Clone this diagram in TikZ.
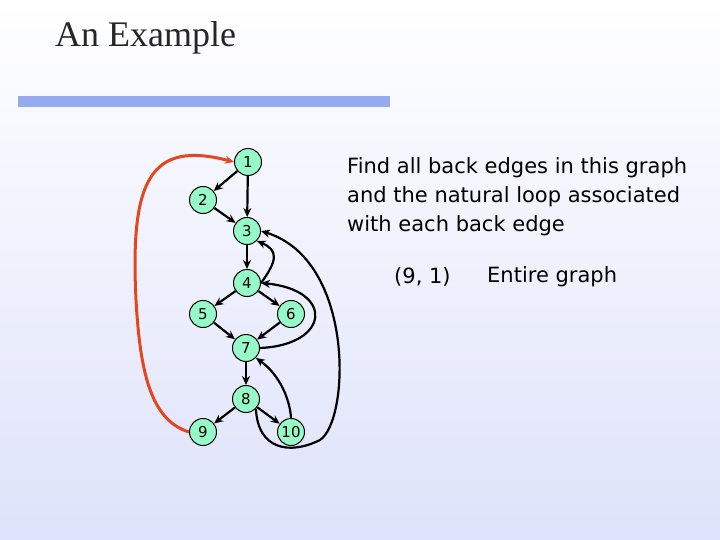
\documentclass[tikz,border=0pt]{standalone}
\usepackage{fontspec}
\setmainfont{Liberation Serif}
\newfontfamily\sansf{DejaVu Sans}
\usetikzlibrary{arrows.meta}
\definecolor{bgblue}{RGB}{222,226,250}
\definecolor{barblue}{RGB}{150,170,240}
\definecolor{nodegreen}{RGB}{150,250,200}
\definecolor{backred}{RGB}{230,70,30}
\begin{document}
\begin{tikzpicture}[x=1pt,y=-1pt,
  gn/.style={circle,draw=black,fill=nodegreen,line width=1pt,minimum size=27pt,inner sep=0pt,font=\sansf\fontsize{15}{15}\selectfont},
  ed/.style={line width=2.2pt,-{Stealth[length=9pt,width=8pt]}},
  txt/.style={font=\sansf\fontsize{21}{25}\selectfont,anchor=west,inner sep=0pt}]
\shade[top color=white,bottom color=bgblue] (0,0) rectangle (720,540);
\useasboundingbox (0,0) rectangle (720,540);
\node[anchor=west,inner sep=0pt,font=\fontsize{36}{36}\selectfont,text=black!85] (title) at (55,38) {An Example};
\fill[barblue] (18,96) rectangle (390,107);
\node[gn] (n1) at (248,162) {1};
\node[gn] (n2) at (203,200) {2};
\node[gn] (n3) at (247,231) {3};
\node[gn] (n4) at (247,283) {4};
\node[gn] (n5) at (203,314) {5};
\node[gn] (n6) at (291,314) {6};
\node[gn] (n7) at (246,348) {7};
\node[gn] (n8) at (246,399) {8};
\node[gn] (n9) at (203,432) {9};
\node[gn] (n10) at (291,432) {10};
\draw[ed] (n1)--(n2);
\draw[ed] (n1)--(n3);
\draw[ed] (n2)--(n3);
\draw[ed] (n3)--(n4);
\draw[ed] (n4)--(n5);
\draw[ed] (n4)--(n6);
\draw[ed] (n5)--(n7);
\draw[ed] (n6)--(n7);
\draw[ed] (n7)--(n8);
\draw[ed] (n8)--(n9);
\draw[ed] (n8)--(n10);
\draw[ed] (n4.east) .. controls (278,260) and (278,250) .. (n3.south east);
\draw[ed] (n10.north) .. controls (290,400) and (280,375) .. (n7.south east);
\draw[ed] (n7.east) .. controls (330,345) and (335,290) .. (n4.east);
\draw[ed] (n8.south east) .. controls (258,450) and (290,455) .. (320,440) .. controls (350,420) and (355,260) .. (n3.east);
\draw[ed,backred,line width=3pt] (n9.west) .. controls (150,420) and (140,370) .. (136,300) .. controls (130,180) and (150,140) .. (n1.west);
\node[txt] (t1) at (347,168) {Find all back edges in this graph};
\node[txt] (t2) at (347,197) {and the natural loop associated};
\node[txt] (t3) at (347,226) {with each back edge};
\node[txt] (t4) at (394,277) {(9, 1)};
\node[txt] (t5) at (487,277) {Entire graph};
\end{tikzpicture}
\end{document}
